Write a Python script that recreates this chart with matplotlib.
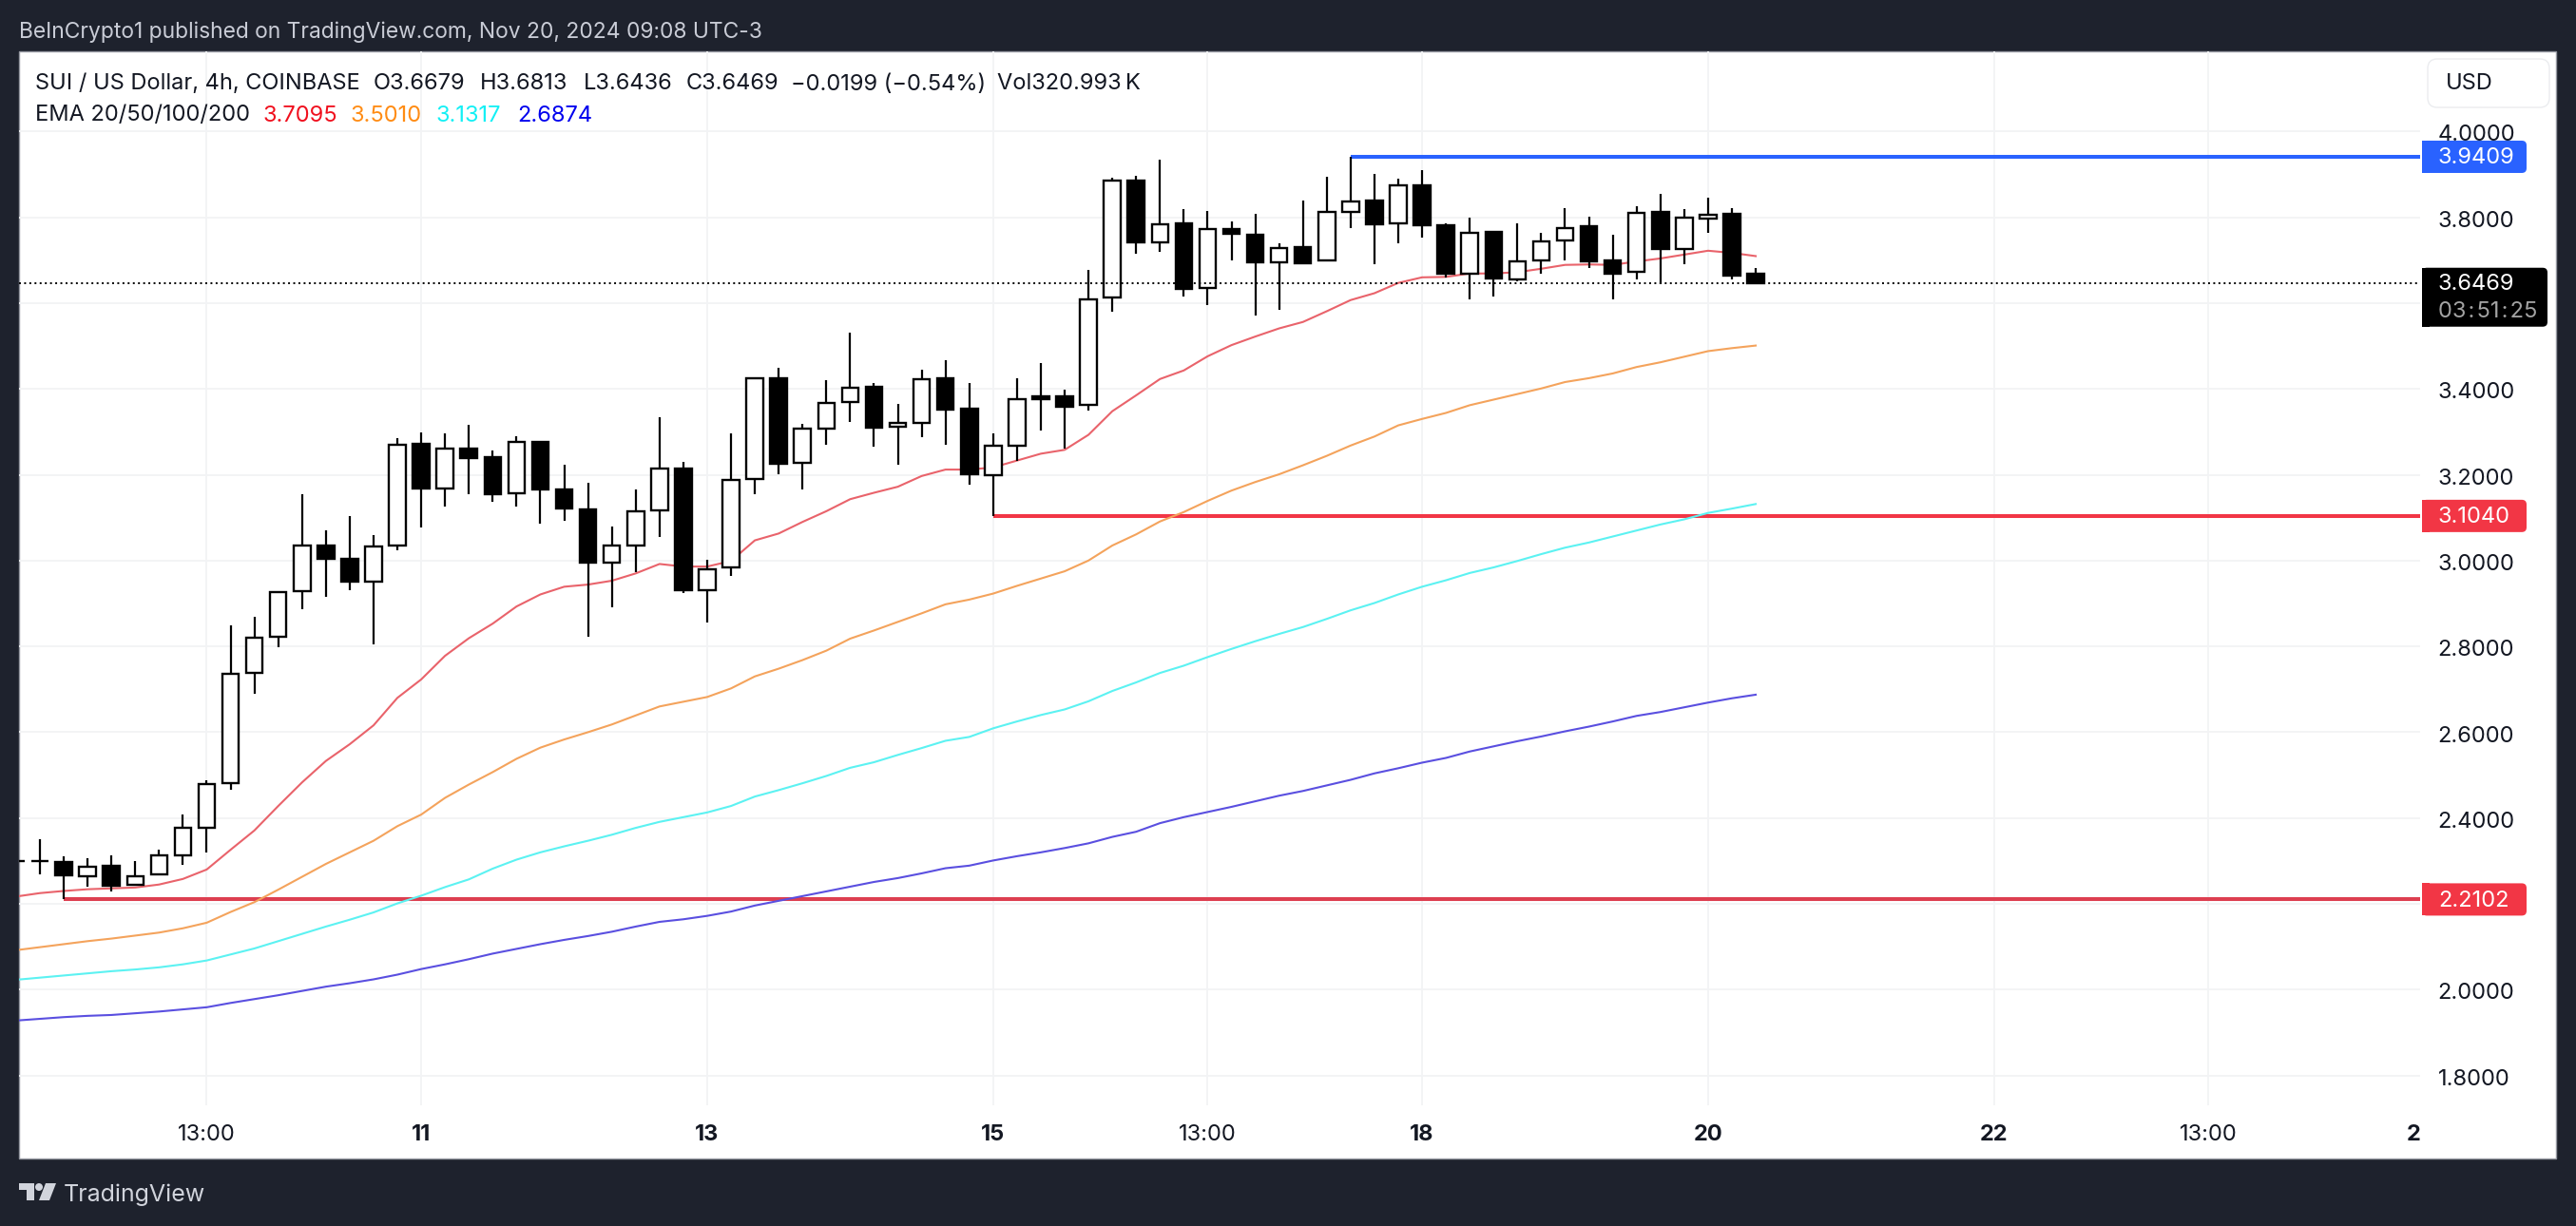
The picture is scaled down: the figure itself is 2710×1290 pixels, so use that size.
import matplotlib
matplotlib.use("Agg")
import matplotlib.pyplot as plt
from matplotlib.patches import FancyBboxPatch, Rectangle, Polygon, Circle
from matplotlib.transforms import IdentityTransform, ScaledTranslation

plt.rcParams["font.family"] = ["Inter", "DejaVu Sans"]

# Candles, the first one is cut by the left edge of the chart.
first_candle = -1
opens = [2.300, 2.300, 2.298, 2.264, 2.288, 2.244, 2.269, 2.313, 2.378, 2.482,
         2.738, 2.822, 2.929, 3.035, 3.005, 2.951, 3.035, 3.272, 3.169, 3.262,
         3.240, 3.156, 3.276, 3.165, 3.120, 2.996, 3.035, 3.116, 3.215, 2.932,
         2.983, 3.189, 3.424, 3.227, 3.308, 3.369, 3.404, 3.311, 3.320, 3.424,
         3.353, 3.200, 3.268, 3.382, 3.382, 3.362, 3.613, 3.885, 3.742, 3.785,
         3.635, 3.773, 3.760, 3.696, 3.731, 3.699, 3.813, 3.838, 3.785, 3.875,
         3.781, 3.669, 3.765, 3.656, 3.700, 3.745, 3.779, 3.699, 3.672, 3.813,
         3.727, 3.798, 3.807, 3.6679]
highs = [2.301, 2.351, 2.311, 2.306, 2.314, 2.300, 2.327, 2.409, 2.489, 2.848,
         2.870, 2.927, 3.154, 3.071, 3.103, 3.059, 3.286, 3.299, 3.297, 3.317,
         3.257, 3.290, 3.279, 3.223, 3.182, 3.080, 3.165, 3.333, 3.229, 3.002,
         3.297, 3.428, 3.450, 3.319, 3.421, 3.531, 3.413, 3.366, 3.444, 3.468,
         3.413, 3.297, 3.424, 3.461, 3.399, 3.678, 3.893, 3.896, 3.934, 3.820,
         3.815, 3.791, 3.809, 3.740, 3.838, 3.894, 3.9409, 3.902, 3.891, 3.909,
         3.785, 3.799, 3.767, 3.785, 3.763, 3.821, 3.802, 3.759, 3.825, 3.854,
         3.818, 3.846, 3.821, 3.6813]
lows = [2.299, 2.268, 2.2102, 2.239, 2.228, 2.244, 2.269, 2.290, 2.319, 2.466,
        2.690, 2.799, 2.886, 2.915, 2.930, 2.805, 3.025, 3.078, 3.126, 3.154,
        3.137, 3.125, 3.087, 3.092, 2.823, 2.890, 2.974, 3.054, 2.924, 2.856,
        2.964, 3.155, 3.201, 3.166, 3.270, 3.323, 3.266, 3.223, 3.288, 3.270,
        3.177, 3.104, 3.232, 3.303, 3.260, 3.350, 3.580, 3.715, 3.720, 3.616,
        3.596, 3.700, 3.571, 3.585, 3.693, 3.699, 3.775, 3.691, 3.739, 3.753,
        3.660, 3.609, 3.615, 3.651, 3.669, 3.699, 3.681, 3.609, 3.655, 3.645,
        3.690, 3.763, 3.655, 3.6436]
closes = [2.300, 2.300, 2.266, 2.286, 2.243, 2.265, 2.312, 2.377, 2.479, 2.736,
          2.820, 2.927, 3.034, 3.003, 2.950, 3.032, 3.269, 3.167, 3.262, 3.239,
          3.154, 3.276, 3.165, 3.121, 2.995, 3.034, 3.114, 3.214, 2.931, 2.980,
          3.188, 3.425, 3.226, 3.307, 3.367, 3.402, 3.310, 3.320, 3.422, 3.352,
          3.201, 3.268, 3.376, 3.376, 3.359, 3.609, 3.886, 3.742, 3.784, 3.633,
          3.773, 3.762, 3.695, 3.728, 3.693, 3.813, 3.836, 3.784, 3.874, 3.782,
          3.668, 3.764, 3.657, 3.697, 3.744, 3.775, 3.697, 3.668, 3.810, 3.726,
          3.799, 3.806, 3.664, 3.6469]

# EMA values, one for every candle.
ema20 = [2.217, 2.225, 2.230, 2.234, 2.236, 2.238, 2.245, 2.258, 2.280, 2.326,
         2.371, 2.428, 2.483, 2.533, 2.572, 2.616, 2.680, 2.723, 2.778, 2.819,
         2.853, 2.893, 2.921, 2.939, 2.944, 2.953, 2.970, 2.992, 2.986, 2.986,
         2.999, 3.047, 3.063, 3.090, 3.115, 3.143, 3.158, 3.172, 3.197, 3.212,
         3.212, 3.217, 3.233, 3.249, 3.258, 3.293, 3.348, 3.385, 3.423, 3.443,
         3.476, 3.502, 3.522, 3.541, 3.556, 3.581, 3.607, 3.623, 3.647, 3.660,
         3.661, 3.669, 3.669, 3.672, 3.680, 3.689, 3.690, 3.689, 3.697, 3.704,
         3.713, 3.722, 3.717, 3.7095]
ema50 = [2.092, 2.099, 2.106, 2.113, 2.119, 2.126, 2.133, 2.143, 2.156, 2.181,
         2.204, 2.233, 2.263, 2.293, 2.320, 2.347, 2.381, 2.408, 2.447, 2.478,
         2.507, 2.538, 2.564, 2.583, 2.600, 2.618, 2.639, 2.660, 2.671, 2.682,
         2.702, 2.730, 2.748, 2.768, 2.790, 2.818, 2.837, 2.857, 2.877, 2.898,
         2.909, 2.923, 2.941, 2.958, 2.975, 3.000, 3.035, 3.061, 3.091, 3.113,
         3.139, 3.163, 3.183, 3.201, 3.222, 3.244, 3.268, 3.289, 3.315, 3.330,
         3.344, 3.362, 3.375, 3.388, 3.401, 3.416, 3.425, 3.436, 3.451, 3.462,
         3.475, 3.488, 3.495, 3.501]
ema100 = [2.023, 2.028, 2.033, 2.038, 2.043, 2.047, 2.052, 2.059, 2.068, 2.082,
          2.096, 2.113, 2.130, 2.147, 2.163, 2.180, 2.201, 2.219, 2.239, 2.257,
          2.282, 2.303, 2.320, 2.334, 2.347, 2.361, 2.377, 2.391, 2.402, 2.413,
          2.428, 2.450, 2.465, 2.481, 2.498, 2.517, 2.530, 2.547, 2.563, 2.580,
          2.589, 2.609, 2.625, 2.640, 2.653, 2.672, 2.696, 2.716, 2.738, 2.755,
          2.775, 2.794, 2.812, 2.829, 2.845, 2.864, 2.884, 2.901, 2.921, 2.939,
          2.954, 2.971, 2.984, 2.999, 3.015, 3.030, 3.042, 3.056, 3.070, 3.084,
          3.096, 3.111, 3.121, 3.1317]
ema200 = [1.928, 1.932, 1.936, 1.939, 1.941, 1.945, 1.949, 1.954, 1.959, 1.969,
          1.978, 1.987, 1.997, 2.007, 2.015, 2.024, 2.035, 2.048, 2.059, 2.071,
          2.084, 2.095, 2.106, 2.116, 2.125, 2.135, 2.147, 2.158, 2.164, 2.172,
          2.182, 2.196, 2.207, 2.218, 2.229, 2.240, 2.251, 2.260, 2.271, 2.283,
          2.289, 2.301, 2.311, 2.320, 2.330, 2.341, 2.356, 2.368, 2.388, 2.402,
          2.414, 2.426, 2.439, 2.452, 2.463, 2.476, 2.489, 2.504, 2.516, 2.529,
          2.540, 2.555, 2.567, 2.579, 2.590, 2.602, 2.613, 2.625, 2.638, 2.647,
          2.658, 2.669, 2.679, 2.6874]
ema_colors = ["#e9636b", "#f4a35c", "#5cf2f2", "#5a4fe0"]
ema_text_colors = ["#f0101e", "#ff8c14", "#14f0f5", "#0000ee"]
ema_labels = ["3.7095", "3.5010", "3.1317", "2.6874"]
ema_label_x = [277, 369, 459, 544]

# Horizontal levels: price, candle where it starts, colour.
level_prices = [3.9409, 3.1040, 2.2102]
level_starts = [55, 40, 1]
level_colors = ["#2962ff", "#f23645", "#dd3f50"]
level_label_colors = ["#2962ff", "#f23645", "#f23645"]
last_price = 3.6469

price_ticks = [1.8, 2.0, 2.2, 2.4, 2.6, 2.8, 3.0, 3.2, 3.4, 3.6, 3.8, 4.0]
# 2.2 and 3.6 sit under the price boxes, so no label is shown for them
price_labels = ["1.8000", "2.0000", "", "2.4000", "2.6000", "2.8000", "3.0000", "3.2000",
                "3.4000", "", "3.8000", "4.0000"]
time_ticks = [7, 16, 28, 40, 49, 58, 70, 82, 91, 99.6]
time_labels = ["13:00", "11", "13", "15", "13:00", "18", "20", "22", "13:00", "2"]
bold_labels = ["11", "13", "15", "18", "20", "22", "2"]

DARK = "#1e222d"
W, H = 2710, 1290
FONT = 17


def fx(x):
    return x / W


def fy(y):
    return 1 - y / H


def put(x, y, s, color="#131722", size=FONT, **kw):
    return fig.text(fx(x), fy(y + 1.5), s, color=color, fontsize=size, zorder=8, va="center", **kw)


fig = plt.figure(figsize=(27.1, 12.9), dpi=100, facecolor=DARK)

# White panel behind the chart.
fig.patches.append(Rectangle((fx(20), fy(1219)), fx(2669), 1165 / H, transform=fig.transFigure,
                             facecolor="white", edgecolor="#9598a1", linewidth=1.0, zorder=-1))

ax = fig.add_axes([fx(20), fy(1163), fx(2526), 1109 / H])
ax.patch.set_visible(False)
ax.set_xlim(-0.8775, 99.88)
ax.set_ylim(1.7305, 4.1867)
for s in ax.spines.values():
    s.set_visible(False)

ax.set_yticks(price_ticks)
ax.set_yticklabels(price_labels, fontsize=FONT, color="#131722")
ax.yaxis.tick_right()
ax.set_xticks(time_ticks)
ax.set_xticklabels(time_labels, fontsize=FONT, color="#131722")
ax.tick_params(axis="y", length=0, pad=13.5)
ax.tick_params(axis="x", length=0, pad=14.5)
for lab in ax.get_xticklabels():
    if lab.get_text() in bold_labels:
        lab.set_fontweight("bold")
# price labels sit a little lower than the grid lines
shift = ScaledTranslation(0, -1.2 / 72, fig.dpi_scale_trans)
for lab in ax.get_yticklabels():
    lab.set_transform(lab.get_transform() + shift)
ax.grid(True, color="#f2f3f5", linewidth=1.3)
ax.set_axisbelow(True)
ax.xaxis.get_gridlines()[-1].set_visible(False)

xs = list(range(first_candle, first_candle + len(opens)))

# Levels and EMAs go under the candles.
x_right = ax.get_xlim()[1]
for price, start, color in zip(level_prices, level_starts, level_colors):
    ax.hlines(price, start, x_right, color=color, linewidth=2.9, zorder=2)
for vals, color in zip([ema20, ema50, ema100, ema200], ema_colors):
    ax.plot(xs, vals, color=color, linewidth=1.5, zorder=3)

# Candles.
ax.vlines(xs, lows, highs, color="black", linewidth=1.6, zorder=4)
for x, o, c in zip(xs, opens, closes):
    face = "white" if c >= o else "black"
    ax.bar(x, abs(c - o), bottom=min(o, c), width=0.7, color=face, edgecolor="black",
           linewidth=1.7, zorder=5)

# Dotted line at last price.
ax.axhline(last_price, color="black", linewidth=1.4, linestyle=(0, (1, 1.8)), zorder=6)

# Labels on the price scale, positioned from the price through the axes.
def price_box(y_px, height, right, color):
    # y_px is in display pixels, only the right corners are round
    fig.patches.append(FancyBboxPatch((2548, y_px), right - 2548, height,
                                      boxstyle="round,pad=0,rounding_size=5", facecolor=color,
                                      edgecolor="none", transform=IdentityTransform(), zorder=6))
    fig.patches.append(Rectangle((2548, y_px), 8, height, facecolor=color, edgecolor="none",
                                 transform=IdentityTransform(), zorder=6))


for price, color in zip(level_prices, level_label_colors):
    y_px = ax.transData.transform((0, price))[1]
    price_box(y_px - 17, 34, 2658, color)
    put(2565, H - y_px, "%.4f" % price, color="white")

y_px = ax.transData.transform((0, last_price))[1]
price_box(y_px - 46, 62, 2680, "black")
put(2565, H - y_px, "%.4f" % last_price, color="white")
put(2565, H - y_px + 29, "03\u200a:\u200a51\u200a:\u200a25", color="#a3a3a3")

# USD button.
fig.patches.append(FancyBboxPatch((2554, H - 113), 128, 51, boxstyle="round,pad=0,rounding_size=10",
                                  facecolor="white", edgecolor="#ebecef", linewidth=1.0,
                                  transform=IdentityTransform(), zorder=6))
put(2573, 87, "USD")

# Header and legend text.
put(20, 32, "BeInCrypto1 published on TradingView.com, Nov 20, 2024 09:08 UTC-3", color="#c9ccd6", size=16.45)
put(37, 87, "SUI / US Dollar, 4h, COINBASE")
put(393, 87, "O3.6679")
put(505, 87, "H3.6813")
put(614, 87, "L3.6436")
put(722, 87, "C3.6469")
put(832, 87, "\u22120.0199 (\u22120.54%)")
put(1049, 87, "Vol320.993\u2009K")
put(37, 120, "EMA 20/50/100/200")
for x, s, color in zip(ema_label_x, ema_labels, ema_text_colors):
    put(x, 120, s, color=color)

# Footer with the logo.
logo = "#d1d4dc"
fig.patches.append(Polygon([(fx(20), fy(1245)), (fx(36), fy(1245)), (fx(36), fy(1263)), (fx(28), fy(1263)),
                            (fx(28), fy(1252)), (fx(20), fy(1252))], closed=True, facecolor=logo,
                           edgecolor="none", transform=fig.transFigure, zorder=6))
fig.patches.append(Polygon([(fx(48), fy(1245)), (fx(59), fy(1245)), (fx(52), fy(1263)), (fx(41), fy(1263))],
                           closed=True, facecolor=logo, edgecolor="none", transform=fig.transFigure, zorder=6))
fig.patches.append(Circle((41, H - 1249), 4, facecolor=logo, edgecolor="none",
                          transform=IdentityTransform(), zorder=6))
put(67, 1256, "TradingView", color=logo, size=18)

fig.savefig("out.png", dpi=100, facecolor=DARK)
